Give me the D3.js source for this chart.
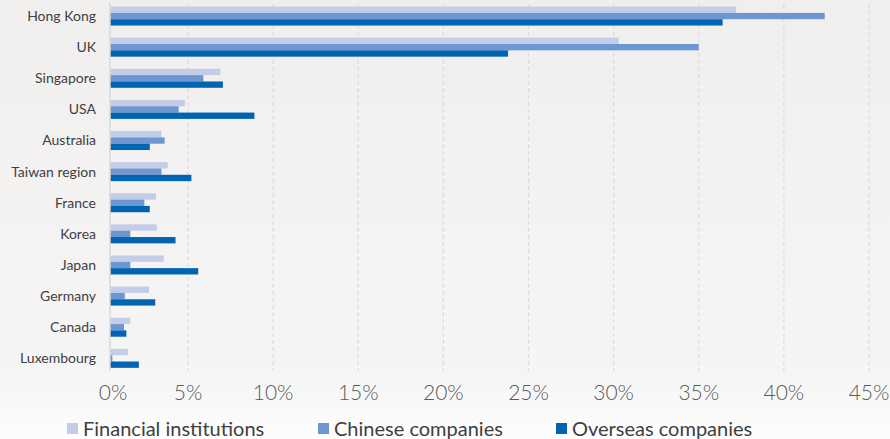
<!DOCTYPE html>
<html>
<head>
<meta charset="utf-8">
<script src="https://cdn.jsdelivr.net/npm/d3@7"></script>
<style>
  html, body { margin: 0; padding: 0; }
  body { width: 890px; height: 439px; overflow: hidden; }
  svg { display: block; font-family: Lato, "Open Sans", sans-serif; }
</style>
</head>
<body>
<svg width="890" height="439"></svg>
<script>
const countries = ["Hong Kong", "UK", "Singapore", "USA", "Australia", "Taiwan region",
  "France", "Korea", "Japan", "Germany", "Canada", "Luxembourg"];
const seriesNames = ["Financial institutions", "Chinese companies", "Overseas companies"];
const financial = [37.2, 30.3, 6.9, 4.8, 3.3, 3.7, 2.95, 3.0, 3.45, 2.5, 1.3, 1.15];
const chinese   = [42.4, 35.0, 5.9, 4.4, 3.5, 3.3, 2.2, 1.3, 1.3, 0.95, 0.9, 0.15];
const overseas  = [36.4, 23.8, 7.05, 8.9, 2.55, 5.2, 2.55, 4.2, 5.6, 2.9, 1.05, 1.85];
const ticks = [0, 5, 10, 15, 20, 25, 30, 35, 40, 45];
const colors = ["#c3cde8", "#6e96d0", "#0064b2"];

const svg = d3.select("svg");

// soft background
const grad = svg.append("defs").append("linearGradient")
  .attr("id", "bg").attr("x1", 0).attr("y1", 0).attr("x2", 0).attr("y2", 1);
grad.append("stop").attr("offset", "0%").attr("stop-color", "#f1efee");
grad.append("stop").attr("offset", "85%").attr("stop-color", "#f6f5f5");
grad.append("stop").attr("offset", "100%").attr("stop-color", "#fdfdfd");
svg.append("rect").attr("width", 890).attr("height", 439).attr("fill", "url(#bg)");

// the picture's first interval is a bit narrower than the rest
const x = d3.scaleLinear().domain([0, 5, 45]).range([110, 188, 869]);
const y = d3.scaleBand().domain(countries).range([0.5, 373.9])
  .paddingInner(0.39).paddingOuter(0.195);
const ySub = d3.scaleBand().domain(d3.range(3)).range([0, y.bandwidth()]);

// grid
svg.append("g")
  .selectAll("line")
  .data(ticks.slice(1)).enter()
  .append("line")
  .attr("x1", d => x(d)).attr("x2", d => x(d))
  .attr("y1", 4).attr("y2", 371)
  .attr("stroke", "#dcdcdc")
  .attr("stroke-width", 1.2)
  .attr("stroke-dasharray", "4,3");

const rows = countries.map((c, i) => ({ c, vals: [financial[i], chinese[i], overseas[i]] }));

svg.append("g")
  .selectAll("g")
  .data(rows).enter()
  .append("g")
  .attr("transform", d => `translate(0,${y(d.c)})`)
  .selectAll("rect")
  .data(d => d.vals).enter()
  .append("rect")
  .attr("x", x(0))
  .attr("y", (d, i) => ySub(i))
  .attr("width", d => x(d) - x(0))
  .attr("height", ySub.bandwidth())
  .attr("fill", (d, i) => colors[i]);

// axis line
svg.append("line")
  .attr("x1", x(0)).attr("x2", x(0))
  .attr("y1", 3).attr("y2", 371)
  .attr("stroke", "#d9d9d9")
  .attr("stroke-width", 1.5);

// category labels
svg.append("g")
  .selectAll("text")
  .data(countries).enter()
  .append("text")
  .attr("x", 96)
  .attr("y", d => y(d) + y.bandwidth() / 2)
  .attr("dy", "0.35em")
  .attr("text-anchor", "end")
  .attr("font-size", 14)
  .attr("fill", "#404040")
  .text(d => d);

// tick labels
svg.append("g")
  .selectAll("text")
  .data(ticks).enter()
  .append("text")
  .attr("x", d => d === 0 ? x(d) + 3 : x(d))
  .attr("y", 400)
  .attr("text-anchor", "middle")
  .attr("font-size", 21)
  .attr("font-weight", 300)
  .attr("fill", "#595959")
  .text(d => d + "%");

// legend
const legendX = [67, 318, 556];
const legend = svg.append("g")
  .selectAll("g")
  .data(seriesNames).enter()
  .append("g")
  .attr("transform", (d, i) => `translate(${legendX[i]},0)`);
legend.append("rect")
  .attr("x", 0).attr("y", 423)
  .attr("width", 11).attr("height", 11)
  .attr("fill", (d, i) => colors[i]);
legend.append("text")
  .attr("x", 16).attr("y", 436)
  .attr("font-size", 20)
  .attr("fill", "#404040")
  .text(d => d);
</script>
</body>
</html>
